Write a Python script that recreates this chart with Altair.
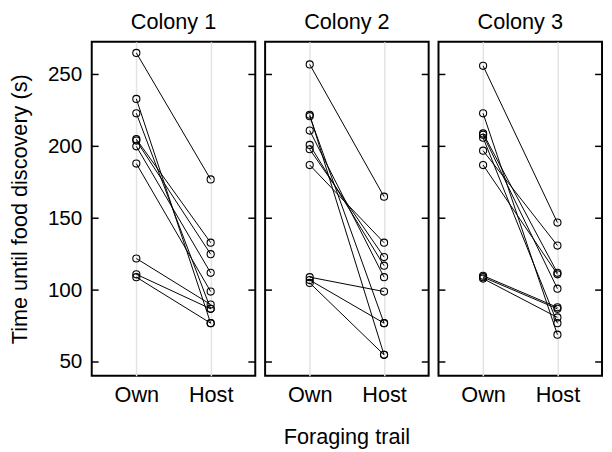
import altair as alt
import pandas as pd

colonies = ["Colony 1", "Colony 2", "Colony 3"]
trails = ["Own", "Host"]

colony1_own = [265, 233, 223, 205, 204, 200, 188, 122, 111, 109]
colony1_host = [177, 77, 87, 133, 125, 112, 99, 90, 87, 77]
colony2_own = [257, 222, 221, 211, 201, 198, 187, 109, 107, 105]
colony2_host = [165, 55, 77, 109, 117, 123, 133, 99, 77, 55]
colony3_own = [256, 223, 209, 208, 206, 197, 187, 110, 109, 108]
colony3_host = [147, 69, 112, 101, 77, 131, 111, 88, 87, 81]

y_ticks = [50, 100, 150, 200, 250]

rows = []
for col, own, host in zip(colonies, [colony1_own, colony2_own, colony3_own],
                          [colony1_host, colony2_host, colony3_host]):
    for i, (o, h) in enumerate(zip(own, host)):
        rows.append({"colony": col, "trail": "Own", "value": o, "id": f"{col}-{i}", "kind": "obs"})
        rows.append({"colony": col, "trail": "Host", "value": h, "id": f"{col}-{i}", "kind": "obs"})
    for t in y_ticks:
        rows.append({"colony": col, "trail": "Own", "value": t, "id": f"t{t}", "kind": "tick"})
df = pd.DataFrame(rows)

FONT = "Liberation Sans"
W, H = 166, 339

x_enc = alt.X("trail:N", sort=trails,
              scale=alt.Scale(type="point", domain=trails, padding=0.6),
              axis=alt.Axis(title=None, grid=True, gridColor="#e3e3e3", gridWidth=1.5,
                            ticks=False, tickSize=0, domain=False, labelAngle=0,
                            labelPadding=8, labelFontSize=22, labelColor="black", labelFont=FONT))
y_scale = alt.Scale(domain=[40.4, 272.7], nice=False, zero=False)
y_enc = alt.Y("value:Q", scale=y_scale,
              axis=alt.Axis(title="Time until food discovery (s)", values=y_ticks, grid=False,
                            ticks=False, tickSize=0, domain=False, labelPadding=8,
                            labelFontSize=21, labelColor="black", labelFont=FONT,
                            titleFontSize=22, titleFont=FONT, titleFontWeight="normal",
                            titleColor="black", titlePadding=16))

obs = alt.datum.kind == "obs"
tk = alt.datum.kind == "tick"

lines = alt.Chart().mark_line(color="black", strokeWidth=1).encode(
    x=x_enc, y=y_enc, detail="id:N").transform_filter(obs)
points = alt.Chart().mark_point(shape="circle", filled=False, color="black",
                                size=52, strokeWidth=1.1, opacity=1).encode(
    x=x_enc, y=y_enc).transform_filter(obs)
ticks_l = alt.Chart().mark_rule(color="black", strokeWidth=1.5).encode(
    y=alt.Y("value:Q", scale=y_scale), x=alt.value(0), x2=alt.value(7)).transform_filter(tk)
ticks_r = alt.Chart().mark_rule(color="black", strokeWidth=1.5).encode(
    y=alt.Y("value:Q", scale=y_scale), x=alt.value(W - 7), x2=alt.value(W)).transform_filter(tk)

chart = alt.layer(lines, points, ticks_l, ticks_r, data=df).properties(
    width=W, height=H
).facet(
    column=alt.Column("colony:N", sort=colonies,
                      header=alt.Header(title="Foraging trail", titleOrient="bottom",
                                        titleFontSize=22, titleFont=FONT, titleColor="black",
                                        titleFontWeight="normal", titlePadding=12,
                                        labelOrient="top", labelFontSize=22, labelFont=FONT,
                                        labelColor="black", labelPadding=7))
).properties(padding=0).configure_facet(spacing=6).configure_view(
    stroke="black", strokeWidth=2
)

chart.save("out.html", embed_options={"renderer": "svg", "actions": False})
